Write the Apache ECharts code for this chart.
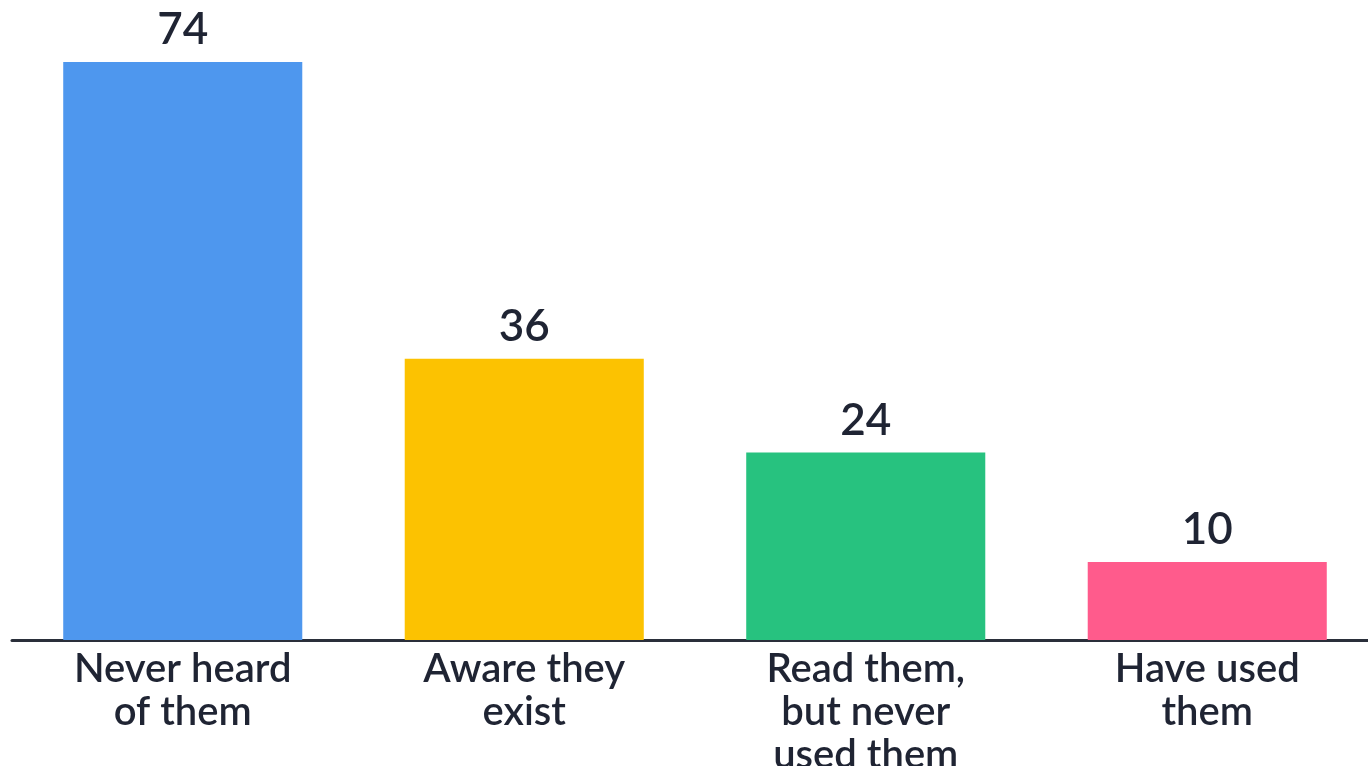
<!DOCTYPE html>
<html><head><meta charset="utf-8">
<script src="https://cdn.jsdelivr.net/npm/echarts@6/dist/echarts.min.js"></script>
<style>html,body{margin:0;padding:0;background:#fff;}#c{width:1368px;height:766px;}</style>
</head><body><div id="c"></div>
<script>
var categories = ["Never heard\nof them", "Aware they\nexist", "Read them,\nbut never\nused them", "Have used\nthem"];
var values = [74, 36, 24, 10];
var colors = ["#4e97ee", "#fcc201", "#27c27f", "#ff5b8c"];

var chart = echarts.init(document.getElementById('c'));
chart.setOption({
  animation: false,
  backgroundColor: '#ffffff',
  grid: {left: 12, right: -10, top: 15, bottom: 126, containLabel: false, outerBoundsMode: 'none'},
  xAxis: {
    type: 'category',
    data: categories,
    axisTick: {show: false},
    axisLine: {lineStyle: {color: '#2a2f3a', width: 3}},
    axisLabel: {color: '#1f2433', fontFamily: 'Lato', fontSize: 40, fontWeight: 600, lineHeight: 43, margin: 8, interval: 0}
  },
  yAxis: {type: 'value', min: 0, max: 80, show: false, splitLine: {show: false}},
  series: [{
    type: 'bar',
    barWidth: '70%',
    data: values.map(function (v, i) { return {value: v, itemStyle: {color: colors[i]}}; }),
    label: {show: true, position: 'top', distance: 10, color: '#1f2433', fontFamily: 'Lato', fontSize: 44, fontWeight: 600}
  }]
});
</script></body></html>
